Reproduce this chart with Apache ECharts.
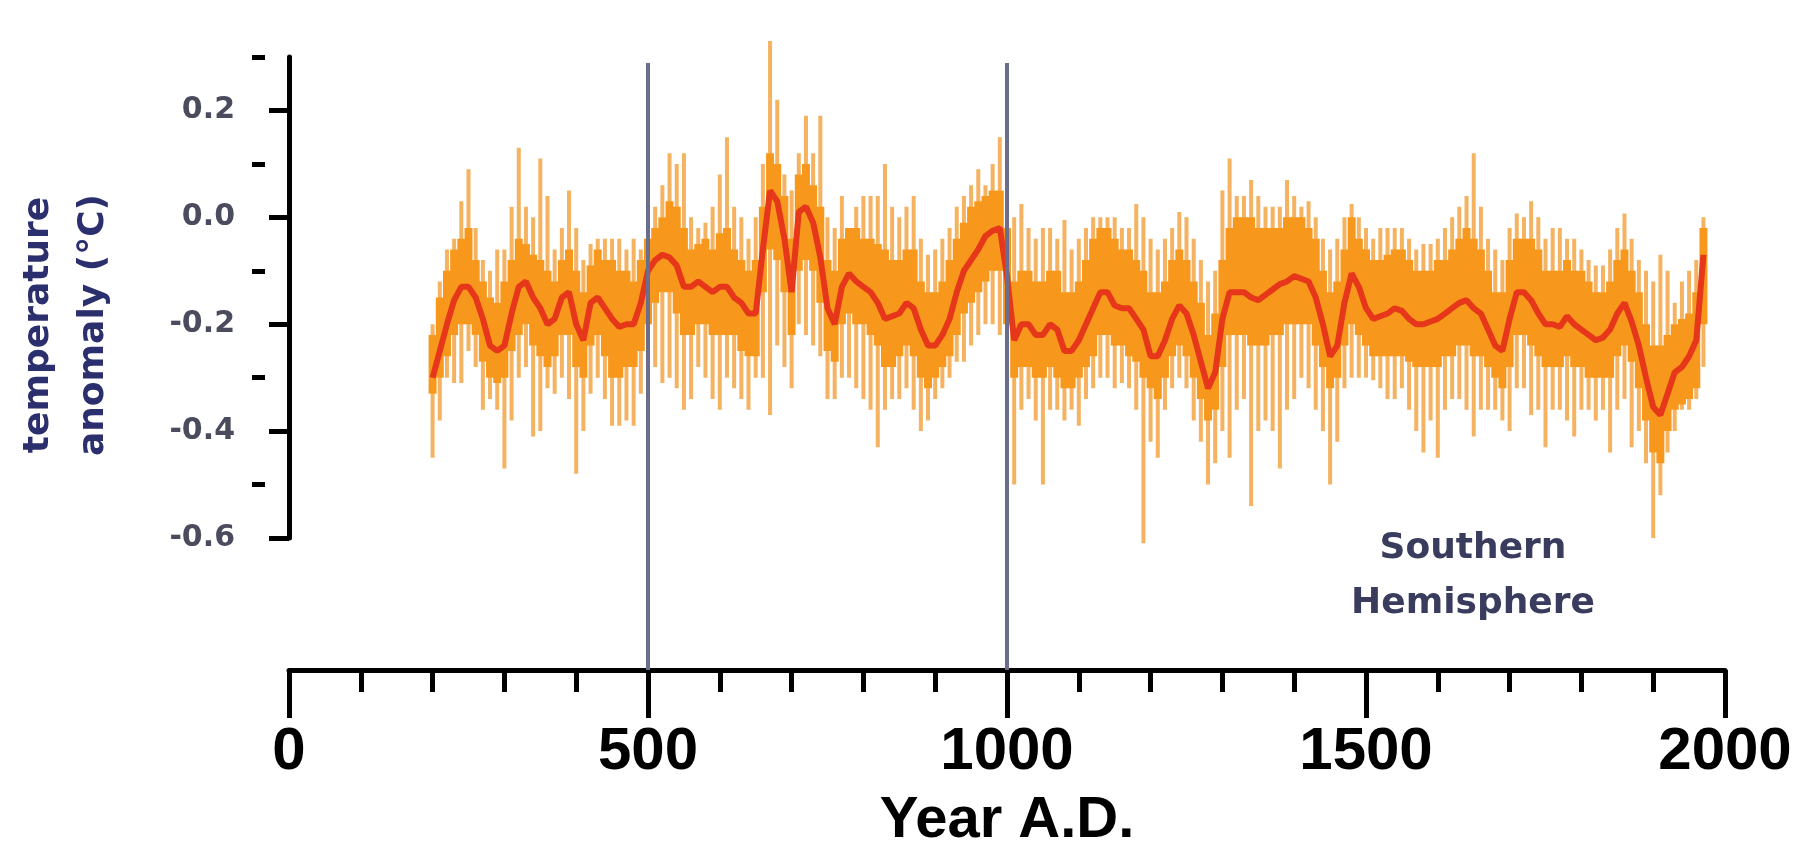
<!DOCTYPE html>
<html>
<head>
<meta charset="utf-8">
<script src="https://cdn.jsdelivr.net/npm/echarts@6/dist/echarts.min.js"></script>
<style>
  html, body { margin: 0; padding: 0; background: #fff; }
  #chart { width: 1813px; height: 850px; }
</style>
</head>
<body>
<div id="chart"></div>
<script>
// decade steps, Southern Hemisphere reconstruction
const years = [
  200, 210, 220, 230, 240, 250, 260, 270, 280, 290,
  300, 310, 320, 330, 340, 350, 360, 370, 380, 390,
  400, 410, 420, 430, 440, 450, 460, 470, 480, 490,
  500, 510, 520, 530, 540, 550, 560, 570, 580, 590,
  600, 610, 620, 630, 640, 650, 660, 670, 680, 690,
  700, 710, 720, 730, 740, 750, 760, 770, 780, 790,
  800, 810, 820, 830, 840, 850, 860, 870, 880, 890,
  900, 910, 920, 930, 940, 950, 960, 970, 980, 990,
  1000, 1010, 1020, 1030, 1040, 1050, 1060, 1070, 1080, 1090,
  1100, 1110, 1120, 1130, 1140, 1150, 1160, 1170, 1180, 1190,
  1200, 1210, 1220, 1230, 1240, 1250, 1260, 1270, 1280, 1290,
  1300, 1310, 1320, 1330, 1340, 1350, 1360, 1370, 1380, 1390,
  1400, 1410, 1420, 1430, 1440, 1450, 1460, 1470, 1480, 1490,
  1500, 1510, 1520, 1530, 1540, 1550, 1560, 1570, 1580, 1590,
  1600, 1610, 1620, 1630, 1640, 1650, 1660, 1670, 1680, 1690,
  1700, 1710, 1720, 1730, 1740, 1750, 1760, 1770, 1780, 1790,
  1800, 1810, 1820, 1830, 1840, 1850, 1860, 1870, 1880, 1890,
  1900, 1910, 1920, 1930, 1940, 1950, 1960, 1970
];

// smoothed red curve
const redLine = [
  -0.30, -0.25, -0.20, -0.155, -0.13, -0.13, -0.15, -0.19, -0.24, -0.25,
  -0.24, -0.18, -0.13, -0.12, -0.15, -0.17, -0.20, -0.19, -0.15, -0.14,
  -0.20, -0.23, -0.16, -0.15, -0.17, -0.19, -0.205, -0.20, -0.20, -0.16,
  -0.10, -0.08, -0.07, -0.075, -0.09, -0.13, -0.13, -0.12, -0.13, -0.14,
  -0.13, -0.13, -0.15, -0.16, -0.18, -0.18, -0.06, 0.05, 0.03, -0.04,
  -0.14, 0.01, 0.02, -0.01, -0.075, -0.17, -0.20, -0.13, -0.105, -0.12,
  -0.13, -0.14, -0.16, -0.19, -0.185, -0.18, -0.16, -0.17, -0.21, -0.24,
  -0.24, -0.22, -0.19, -0.14, -0.10, -0.08, -0.06, -0.035, -0.025, -0.02,
  -0.11, -0.23, -0.20, -0.20, -0.22, -0.22, -0.20, -0.21, -0.25, -0.25,
  -0.23, -0.20, -0.17, -0.14, -0.14, -0.165, -0.17, -0.17, -0.19, -0.21,
  -0.26, -0.26, -0.23, -0.19, -0.165, -0.18, -0.22, -0.27, -0.32, -0.29,
  -0.19, -0.14, -0.14, -0.14, -0.15, -0.155, -0.145, -0.135, -0.125, -0.12,
  -0.11, -0.115, -0.12, -0.15, -0.20, -0.26, -0.24, -0.16, -0.105, -0.13,
  -0.17, -0.19, -0.185, -0.18, -0.17, -0.175, -0.19, -0.20, -0.20, -0.195,
  -0.19, -0.18, -0.17, -0.16, -0.155, -0.17, -0.18, -0.21, -0.24, -0.25,
  -0.19, -0.14, -0.14, -0.155, -0.18, -0.20, -0.20, -0.205, -0.185, -0.20,
  -0.21, -0.22, -0.23, -0.225, -0.21, -0.18, -0.16, -0.195, -0.24, -0.30,
  -0.355, -0.37, -0.33, -0.29, -0.28, -0.26, -0.23, -0.07
];

// dense orange band
const bandHi = [
  -0.22, -0.15, -0.10, -0.06, -0.04, -0.02, -0.08, -0.12, -0.15, -0.16,
  -0.12, -0.08, -0.04, -0.05, -0.07, -0.08, -0.10, -0.12, -0.08, -0.06,
  -0.10, -0.14, -0.09, -0.06, -0.08, -0.08, -0.10, -0.10, -0.12, -0.08,
  -0.04, -0.02, 0.00, 0.03, 0.02, -0.02, -0.06, -0.05, -0.04, -0.06,
  -0.03, -0.02, -0.06, -0.08, -0.10, -0.08, 0.02, 0.12, 0.10, 0.04,
  -0.04, 0.08, 0.10, 0.06, 0.02, -0.08, -0.10, -0.04, -0.02, -0.02,
  -0.04, -0.04, -0.05, -0.06, -0.08, -0.08, -0.06, -0.06, -0.12, -0.14,
  -0.14, -0.12, -0.08, -0.04, -0.01, 0.02, 0.03, 0.04, 0.05, 0.05,
  -0.02, -0.12, -0.10, -0.10, -0.12, -0.12, -0.10, -0.10, -0.14, -0.14,
  -0.12, -0.08, -0.04, -0.02, -0.02, -0.04, -0.06, -0.06, -0.08, -0.10,
  -0.14, -0.14, -0.12, -0.08, -0.06, -0.08, -0.12, -0.16, -0.22, -0.18,
  -0.08, -0.02, 0.00, 0.00, 0.00, -0.02, -0.02, -0.02, -0.02, 0.00,
  0.00, 0.00, -0.02, -0.04, -0.10, -0.14, -0.12, -0.06, 0.00, -0.04,
  -0.06, -0.08, -0.08, -0.07, -0.06, -0.06, -0.08, -0.10, -0.10, -0.10,
  -0.08, -0.08, -0.06, -0.04, -0.02, -0.04, -0.06, -0.10, -0.14, -0.14,
  -0.08, -0.04, -0.04, -0.04, -0.06, -0.10, -0.10, -0.10, -0.08, -0.10,
  -0.10, -0.12, -0.14, -0.14, -0.12, -0.08, -0.06, -0.10, -0.14, -0.20,
  -0.24, -0.24, -0.22, -0.20, -0.19, -0.18, -0.14, -0.02
];
const bandLo = [
  -0.33, -0.30, -0.26, -0.22, -0.20, -0.20, -0.22, -0.27, -0.30, -0.31,
  -0.30, -0.25, -0.22, -0.20, -0.24, -0.26, -0.28, -0.26, -0.22, -0.22,
  -0.28, -0.30, -0.24, -0.22, -0.26, -0.30, -0.30, -0.28, -0.28, -0.25,
  -0.20, -0.16, -0.14, -0.14, -0.18, -0.22, -0.22, -0.20, -0.20, -0.22,
  -0.22, -0.22, -0.22, -0.25, -0.26, -0.26, -0.14, -0.06, -0.08, -0.14,
  -0.22, -0.10, -0.08, -0.10, -0.16, -0.25, -0.27, -0.20, -0.18, -0.20,
  -0.20, -0.22, -0.24, -0.28, -0.28, -0.26, -0.24, -0.26, -0.30, -0.32,
  -0.30, -0.28, -0.26, -0.22, -0.18, -0.16, -0.14, -0.12, -0.10, -0.10,
  -0.20, -0.30, -0.28, -0.28, -0.30, -0.30, -0.28, -0.30, -0.32, -0.32,
  -0.30, -0.28, -0.26, -0.22, -0.22, -0.24, -0.24, -0.26, -0.27, -0.30,
  -0.32, -0.34, -0.30, -0.26, -0.24, -0.26, -0.30, -0.34, -0.38, -0.36,
  -0.28, -0.22, -0.22, -0.22, -0.24, -0.24, -0.24, -0.22, -0.22, -0.20,
  -0.20, -0.20, -0.20, -0.24, -0.28, -0.32, -0.30, -0.24, -0.20, -0.22,
  -0.24, -0.26, -0.26, -0.26, -0.26, -0.26, -0.27, -0.28, -0.28, -0.28,
  -0.28, -0.26, -0.26, -0.24, -0.24, -0.26, -0.26, -0.28, -0.30, -0.32,
  -0.28, -0.22, -0.22, -0.24, -0.26, -0.28, -0.28, -0.28, -0.26, -0.28,
  -0.28, -0.30, -0.30, -0.30, -0.30, -0.26, -0.24, -0.27, -0.32, -0.38,
  -0.44, -0.46, -0.40, -0.36, -0.35, -0.34, -0.32, -0.20
];

// thin lighter spikes (full range)
const spikeHi = [
  -0.20, -0.12, -0.06, -0.04, 0.03, 0.09, -0.02, -0.08, -0.10, -0.06,
  -0.06, 0.02, 0.13, 0.02, 0.00, 0.11, 0.04, -0.06, -0.02, 0.05,
  -0.02, -0.08, -0.05, -0.04, -0.04, -0.04, -0.04, -0.06, -0.04, -0.06,
  -0.01, 0.02, 0.06, 0.12, 0.10, 0.12, 0.00, -0.02, -0.01, 0.02,
  0.08, 0.15, 0.02, 0.00, -0.04, 0.00, 0.10, 0.33, 0.22, 0.08,
  0.05, 0.12, 0.19, 0.12, 0.19, 0.00, -0.02, 0.04, -0.02, 0.02,
  0.04, 0.04, 0.04, 0.10, 0.02, 0.00, 0.02, 0.04, -0.04, -0.07,
  -0.06, -0.04, -0.02, 0.02, 0.04, 0.06, 0.09, 0.06, 0.10, 0.15,
  0.04, 0.00, 0.025, -0.02, -0.04, -0.02, -0.02, -0.04, -0.005, -0.06,
  -0.04, -0.02, 0.00, 0.00, 0.00, 0.00, -0.02, -0.02, 0.025, 0.00,
  -0.04, -0.06, -0.04, -0.02, 0.01, 0.00, -0.04, -0.08, -0.12, -0.10,
  0.05, 0.11, 0.04, 0.04, 0.07, 0.04, 0.02, 0.02, 0.02, 0.07,
  0.04, 0.02, 0.03, 0.00, -0.04, -0.06, -0.04, 0.00, 0.025, 0.00,
  -0.02, -0.04, -0.02, -0.02, -0.02, -0.02, -0.04, -0.06, -0.05, -0.05,
  -0.04, -0.02, 0.00, 0.02, 0.04, 0.12, 0.02, -0.04, -0.06, -0.08,
  -0.02, 0.007, 0.00, 0.03, 0.00, -0.04, -0.02, -0.02, -0.04, -0.04,
  -0.06, -0.08, -0.09, -0.09, -0.06, -0.02, 0.007, -0.04, -0.08, -0.10,
  -0.12, -0.07, -0.10, -0.16, -0.12, -0.10, -0.08, 0.00
];
const spikeLo = [
  -0.45, -0.38, -0.30, -0.31, -0.31, -0.25, -0.28, -0.36, -0.34, -0.36,
  -0.47, -0.38, -0.30, -0.28, -0.41, -0.40, -0.32, -0.33, -0.30, -0.34,
  -0.48, -0.40, -0.33, -0.30, -0.34, -0.39, -0.39, -0.38, -0.39, -0.33,
  -0.30, -0.28, -0.31, -0.30, -0.32, -0.36, -0.34, -0.28, -0.30, -0.34,
  -0.36, -0.30, -0.32, -0.34, -0.36, -0.30, -0.30, -0.37, -0.24, -0.28,
  -0.32, -0.20, -0.22, -0.24, -0.26, -0.34, -0.34, -0.30, -0.30, -0.32,
  -0.34, -0.36, -0.43, -0.36, -0.34, -0.34, -0.32, -0.36, -0.40, -0.38,
  -0.34, -0.32, -0.30, -0.27, -0.27, -0.24, -0.22, -0.20, -0.20, -0.22,
  -0.40, -0.50, -0.36, -0.34, -0.38, -0.50, -0.36, -0.36, -0.38, -0.36,
  -0.39, -0.34, -0.32, -0.30, -0.30, -0.32, -0.31, -0.32, -0.36, -0.61,
  -0.42, -0.45, -0.36, -0.32, -0.30, -0.32, -0.38, -0.42, -0.50, -0.46,
  -0.40, -0.45, -0.36, -0.34, -0.54, -0.40, -0.38, -0.40, -0.47, -0.36,
  -0.34, -0.30, -0.32, -0.36, -0.40, -0.50, -0.42, -0.32, -0.30, -0.30,
  -0.30, -0.305, -0.32, -0.34, -0.34, -0.32, -0.36, -0.40, -0.44, -0.38,
  -0.45, -0.36, -0.34, -0.34, -0.36, -0.41, -0.36, -0.36, -0.36, -0.38,
  -0.40, -0.32, -0.32, -0.37, -0.36, -0.43, -0.36, -0.36, -0.38, -0.41,
  -0.36, -0.36, -0.38, -0.36, -0.44, -0.36, -0.34, -0.43, -0.40, -0.46,
  -0.60, -0.52, -0.44, -0.40, -0.36, -0.36, -0.34, -0.28
];

const yMajor = [-0.6, -0.4, -0.2, 0, 0.2];
const yMinor = [-0.5, -0.3, -0.1, 0.1, 0.3];
const markYears = [500, 1000];

const chart = echarts.init(document.getElementById('chart'));

// vertical bar from value 1 to value 2 at each decade
function rangeBar(color, widthPx) {
  return function (params, api) {
    const x = api.value(0);
    const top = api.coord([x, api.value(1)]);
    const bot = api.coord([x, api.value(2)]);
    const w = widthPx || api.size([10, 0])[0] + 0.8;
    return {
      type: 'rect',
      shape: { x: top[0] - w / 2, y: top[1], width: w, height: bot[1] - top[1] },
      style: { fill: color }
    };
  };
}

const option = {
  backgroundColor: '#fff',
  animation: false,
  grid: [
    { left: 289, right: 88, top: 57, bottom: 312, outerBoundsMode: 'none' },
    { left: 289, right: 88, top: 63, bottom: 180, outerBoundsMode: 'none' }
  ],
  xAxis: [
    { gridIndex: 0, type: 'value', min: 0, max: 2000, show: false },
    {
      gridIndex: 1, type: 'value', min: 0, max: 2000, interval: 500,
      position: 'bottom',
      name: 'Year A.D.', nameLocation: 'middle', nameGap: 122,
      nameTextStyle: { fontSize: 58, fontWeight: 'bold', color: '#000', fontFamily: 'Liberation Sans' },
      axisLine: { lineStyle: { color: '#000', width: 5 } },
      axisTick: { length: 48, lineStyle: { color: '#000', width: 5 } },
      minorTick: { show: true, splitNumber: 5, length: 22, lineStyle: { color: '#000', width: 5 } },
      axisLabel: {
        fontSize: 60, fontWeight: 'bold', color: '#000', fontFamily: 'Liberation Sans', margin: 52,
        formatter: v => String(v)
      },
      splitLine: { show: false },
      minorSplitLine: { show: false }
    }
  ],
  yAxis: [
    {
      gridIndex: 0, type: 'value', position: 'left', offset: 24,
      min: -0.6, max: 0.3, interval: 0.1,
      axisLine: { show: true, lineStyle: { color: '#000', width: 5 } },
      axisTick: { show: true, customValues: yMajor, length: 20, lineStyle: { color: '#000', width: 5 } },
      axisLabel: {
        customValues: yMajor, margin: 30,
        formatter: v => v.toFixed(1),
        fontSize: 30, fontWeight: 'bold', color: '#4a4b5c', fontFamily: 'DejaVu Sans'
      },
      splitLine: { show: false }
    },
    {
      gridIndex: 0, type: 'value', position: 'left', offset: 24,
      min: -0.6, max: 0.3, interval: 0.1,
      axisLine: { show: false },
      axisTick: { show: true, customValues: yMinor, length: 13, lineStyle: { color: '#000', width: 5 } },
      axisLabel: { show: false },
      splitLine: { show: false }
    },
    { gridIndex: 1, type: 'value', min: 0, max: 1, show: false }
  ],
  graphic: [
    {
      type: 'text', x: 66, y: 325, rotation: Math.PI / 2,
      style: {
        text: 'temperature\nanomaly (°C)',
        fill: '#2c2f6e', fontSize: 36, fontWeight: 'bold', fontFamily: 'DejaVu Sans',
        lineHeight: 55, align: 'center', verticalAlign: 'middle'
      }
    },
    {
      type: 'text', x: 1473, y: 576,
      style: {
        text: 'Southern\nHemisphere',
        fill: '#3a3c5e', fontSize: 36, fontWeight: 'bold', fontFamily: 'DejaVu Sans',
        lineHeight: 55, align: 'center', verticalAlign: 'middle'
      }
    }
  ],
  series: [
    {
      name: 'range', type: 'custom', xAxisIndex: 0, yAxisIndex: 0,
      renderItem: rangeBar('#f5b261', 4),
      encode: { x: 0, y: [1, 2] },
      data: years.map((y, i) => [y, spikeHi[i], spikeLo[i]]),
      z: 1
    },
    {
      name: 'band', type: 'custom', xAxisIndex: 0, yAxisIndex: 0,
      renderItem: rangeBar('#f7981d'),
      encode: { x: 0, y: [1, 2] },
      data: years.map((y, i) => [y, bandHi[i], bandLo[i]]),
      z: 2
    },
    {
      name: 'smoothed', type: 'line', xAxisIndex: 0, yAxisIndex: 0,
      data: years.map((y, i) => [y, redLine[i]]),
      showSymbol: false,
      lineStyle: { color: '#e6371a', width: 6 },
      z: 3
    },
    {
      name: 'marks', type: 'line', xAxisIndex: 1, yAxisIndex: 2,
      data: [],
      z: 5,
      markLine: {
        silent: true, symbol: 'none', animation: false,
        label: { show: false },
        lineStyle: { color: '#6b6d8c', width: 4, type: 'solid' },
        data: markYears.map(y => ({ xAxis: y }))
      }
    }
  ]
};

chart.setOption(option);
</script>
</body>
</html>
